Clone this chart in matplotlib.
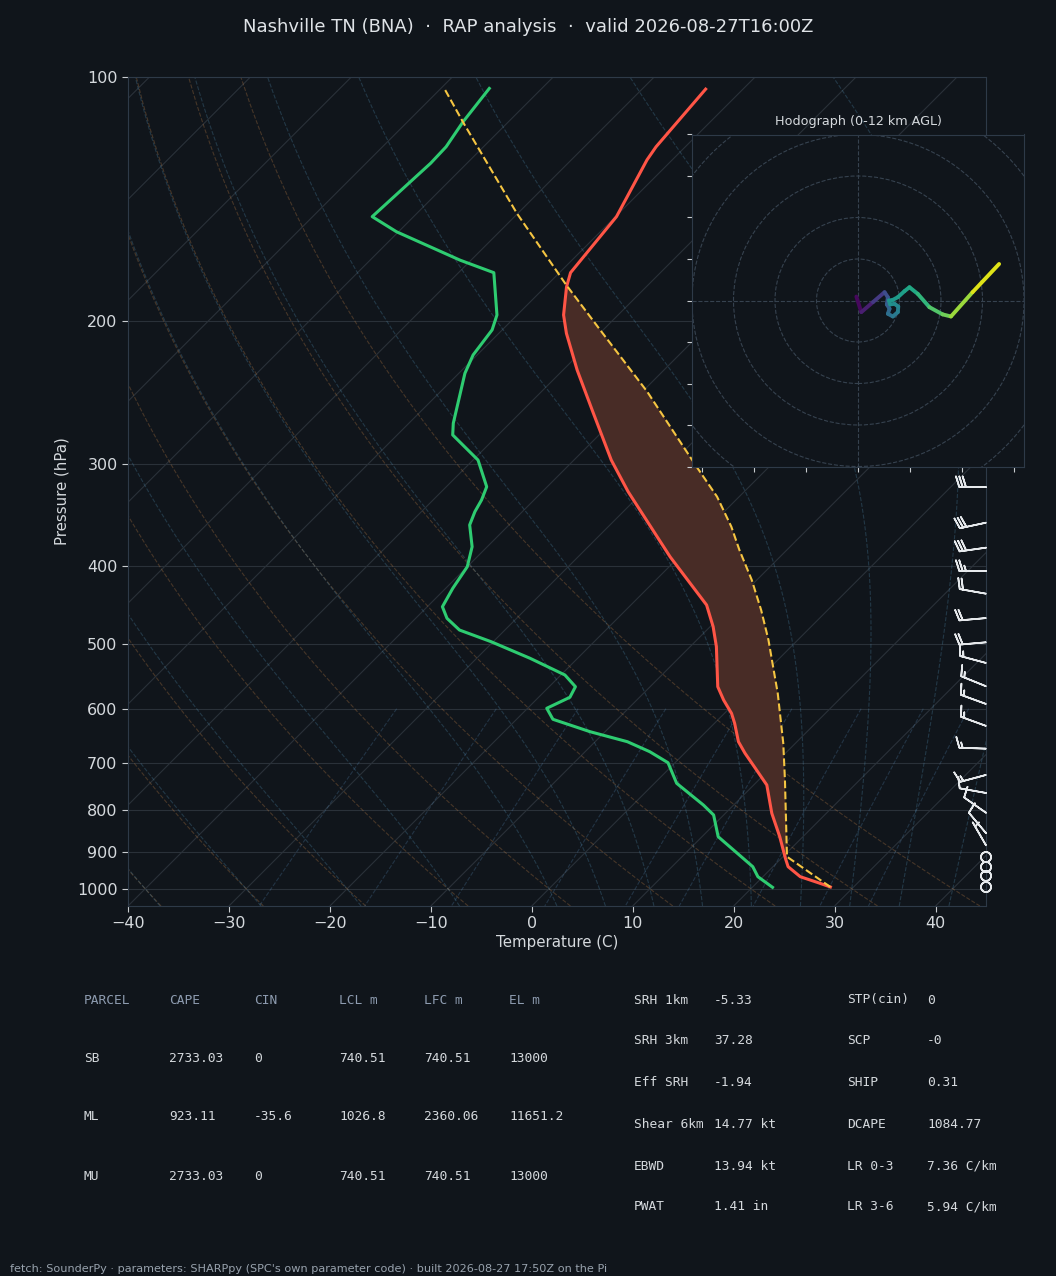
"""Skew-T log-P sounding with hodograph and SHARPpy parameter tables."""

from __future__ import annotations

import matplotlib

matplotlib.use("Agg")
import matplotlib.pyplot as plt
import numpy as np
from matplotlib import transforms
from matplotlib.collections import LineCollection
from matplotlib.patches import Circle
from matplotlib.ticker import MultipleLocator, NullLocator, ScalarFormatter

W, H, DPI = 1056, 1276, 100
BG = "#10151b"
SPINE = "#2e3a48"
TXT = "#d5d9dd"
GRID = "#2a3139"

TITLE = "Nashville TN (BNA)  \u00b7  RAP analysis  \u00b7  valid 2026-08-27T16:00Z"
FOOTER = ("fetch: SounderPy \u00b7 parameters: SHARPpy (SPC's own parameter code) "
          "\u00b7 built 2026-08-27 17:50Z on the Pi")

# --- sounding (hPa, degC) ---
temp_p = [103.5, 121.9, 126.5, 148.6, 174.2, 181.3, 196.4, 206.9, 229.6, 259.6,
          296.4, 324.2, 389.9, 447.1, 475.5, 503.2, 563.7, 585.4, 607.9, 625.4,
          658.9, 680.9, 714.0, 745.0, 807.3, 862.6, 917.1, 939.2, 966.3, 984.5, 994.9]
temp_c = [-63.7, -62.9, -62.5, -59.9, -58.9, -57.9, -55.4, -53.3, -48.6, -42.7,
          -36.3, -31.5, -20.9, -12.5, -9.7, -7.4, -3.3, -1.4, 0.7, 2.0,
          4.2, 6.0, 8.8, 11.3, 14.6, 17.7, 20.4, 21.5, 23.7, 26.3, 27.7]

dewp_p = [103.3, 113.5, 121.9, 127.7, 148.6, 155.1, 168.1, 174.2, 196.4, 204.9,
          220.0, 231.7, 267.0, 276.0, 296.4, 319.7, 331.9, 343.1, 356.3, 379.0,
          401.1, 426.4, 449.3, 464.3, 480.0, 496.2, 520.1, 545.3, 563.7, 580.9,
          599.3, 618.3, 640.4, 658.9, 677.8, 699.3, 741.4, 788.5, 811.1, 862.6,
          939.2, 966.3, 995.8]
dewp_c = [-85.2, -84.5, -83.7, -83.6, -84.1, -80.2, -71.1, -66.5, -62.0, -61.0,
          -60.4, -59.4, -55.6, -54.5, -49.5, -46.0, -45.2, -44.7, -43.9, -41.5,
          -40.0, -39.3, -38.5, -36.9, -34.5, -30.2, -24.7, -19.6, -17.4, -16.9,
          -18.1, -16.4, -11.5, -6.8, -3.6, -0.7, 2.2, 7.0, 9.0, 11.6,
          18.0, 19.5, 22.0]

parcel_p = [994.9, 913.0, 734.5, 661.9, 574.4, 532.6, 493.8, 453.5, 416.5, 382.5,
            358.1, 328.8, 302.0, 244.2, 205.9, 180.4, 147.2, 114.0, 103.6]
parcel_c = [27.7, 20.4, 12.6, 8.8, 3.3, 0.2, -2.9, -6.6, -10.5, -14.7,
            -17.8, -22.2, -27.2, -39.5, -50.0, -58.1, -70.1, -84.3, -89.5]
lfc_p, el_p = 913.0, 181.0

# wind barbs: pressure (hPa), direction (deg), speed (kt)
barb_p = [320, 354, 380, 406, 433, 464, 497, 527, 563, 592, 630, 672, 724, 762,
          806, 854, 884, 914, 940, 964, 995]
barb_dir = [270, 258, 262, 270, 280, 265, 265, 285, 292, 290, 290, 272, 255, 280,
            305, 320, 330, 0, 0, 0, 0]
barb_spd = [30, 30, 30, 25, 20, 20, 20, 15, 15, 15, 15, 15, 15, 10,
            10, 10, 5, 0, 0, 0, 0]

# hodograph (kt) coloured by height (km AGL)
hodo_u = [-0.8, 1.6, 7.2, 12.8, 14.4, 13.9, 15.2, 14.4, 16.8, 19.2, 19.4, 17.6,
          15.5, 14.9, 16.8, 19.2, 22.4, 24.8, 28.8, 34.4, 40.8, 44.8, 55.2, 68.0]
hodo_v = [1.9, -5.6, -0.8, 4.0, 1.6, -1.9, -4.0, -6.4, -7.7, -5.6, -2.9, -1.6,
          -1.9, 0.0, 0.3, 1.6, 4.5, 6.4, 3.2, -3.2, -6.7, -7.7, 4.0, 17.6]
hodo_z = [0.0, 0.5, 1.5, 2.6, 3.0, 3.4, 3.8, 4.2, 4.6, 5.0, 5.3, 5.6,
          5.9, 6.1, 6.3, 6.5, 6.8, 7.0, 7.4, 8.3, 9.2, 9.6, 10.8, 12.0]

# parameter tables
parcel_header = ["PARCEL", "CAPE", "CIN", "LCL m", "LFC m", "EL m"]
parcel_rows = [
    ["SB", "2733.03", "0", "740.51", "740.51", "13000"],
    ["ML", "923.11", "-35.6", "1026.8", "2360.06", "11651.2"],
    ["MU", "2733.03", "0", "740.51", "740.51", "13000"],
]
kin_labels = ["SRH 1km", "SRH 3km", "Eff SRH", "Shear 6km", "EBWD", "PWAT"]
kin_values = ["-5.33", "37.28", "-1.94", "14.77 kt", "13.94 kt", "1.41 in"]
comp_labels = ["STP(cin)", "SCP", "SHIP", "DCAPE", "LR 0-3", "LR 3-6"]
comp_values = ["0", "-0", "0.31", "1084.77", "7.36 C/km", "5.94 C/km"]

DRY_T0 = np.arange(-40, 41, 10)
MOIST_T0 = np.concatenate((np.arange(-40, 0, 10), np.arange(0, 46, 5)))
MIX_W = [0.0004, 0.001, 0.002, 0.004, 0.007, 0.01, 0.016, 0.024, 0.032]


def _fig_xy(x_px: float, y_px: float) -> tuple[float, float]:
    return x_px / W, 1.0 - y_px / H


def _skew(ax, rot: float):
    """Data -> display transform with the x axis skewed in axes coordinates."""
    return (ax.transScale + ax.transLimits
            + transforms.Affine2D().skew_deg(rot, 0) + ax.transAxes)


def _dtdp(t, p):
    rd, cp, lv, eps = 287.04, 1005.7, 2.501e6, 0.622
    es = 6.112 * np.exp(17.67 * (t - 273.15) / (t - 29.65))
    rs = eps * es / (p - es)
    return (rd * t + lv * rs) / (cp + lv * lv * rs * eps / (rd * t * t)) / p


def _moist_lapse(t0_c, levels):
    t = np.asarray(t0_c, dtype=float) + 273.15
    out = [t]
    for p0, p1 in zip(levels[:-1], levels[1:]):
        h = p1 - p0
        k1 = _dtdp(t, p0)
        k2 = _dtdp(t + h * k1 / 2, p0 + h / 2)
        k3 = _dtdp(t + h * k2 / 2, p0 + h / 2)
        k4 = _dtdp(t + h * k3, p1)
        t = t + h * (k1 + 2 * k2 + 2 * k3 + k4) / 6
        out.append(t)
    return np.array(out) - 273.15


fig = plt.figure(figsize=(W / DPI, H / DPI), dpi=DPI, facecolor=BG)
ax = fig.add_axes([128 / W, 1 - 906 / H, 858 / W, 829 / H], facecolor=BG)
ax.set_yscale("log")
ax.set_xlim(-40, 45)
ax.set_ylim(1050, 100)
rot = np.degrees(np.arctan(829 / 858))
skew = _skew(ax, rot)

# background: isobars, isotherms, adiabats, mixing lines
for p in range(100, 1001, 100):
    ax.axhline(p, color=GRID, lw=0.8, zorder=0.5)
iso = [[(t, 1050), (t, 100)] for t in range(-120, 41, 10)]
ax.add_collection(LineCollection(iso, colors=GRID, linewidths=0.8,
                                 transform=skew, zorder=0.5))

plev = np.linspace(1050, 100, 120)
dry = [np.column_stack(((t0 + 273.15) * (plev / 1000.0) ** 0.2857 - 273.15, plev))
       for t0 in DRY_T0]
ax.add_collection(LineCollection(dry, colors="#d08a4a", alpha=0.28, linewidths=0.8,
                                 linestyles="dashed", transform=skew, zorder=0.6))

up = np.linspace(1000, 100, 200)
down = np.linspace(1000, 1050, 12)
t_up = _moist_lapse(MOIST_T0, up)
t_dn = _moist_lapse(MOIST_T0, down)
moist = [np.column_stack((np.concatenate((t_dn[::-1, i], t_up[1:, i])),
                          np.concatenate((down[::-1], up[1:]))))
         for i in range(len(MOIST_T0))]
ax.add_collection(LineCollection(moist, colors="#5aa0c8", alpha=0.25, linewidths=0.8,
                                 linestyles="dashed", transform=skew, zorder=0.6))

pmix = np.linspace(600, 1050, 30)
mix = []
for w in MIX_W:
    e = pmix * w / (0.622 + w)
    lg = np.log(e / 6.112)
    mix.append(np.column_stack((243.5 * lg / (17.67 - lg), pmix)))
ax.add_collection(LineCollection(mix, colors="#5a90c0", alpha=0.25, linewidths=0.8,
                                 linestyles="dashed", transform=skew, zorder=0.6))

# CAPE shading between parcel and environment
pp = np.array(parcel_p)
pc = np.array(parcel_c)
tp = np.array(temp_p)
tc = np.array(temp_c)
seg_par = (pp <= lfc_p) & (pp >= el_p - 1)
seg_env = (tp <= lfc_p + 5) & (tp >= el_p)
fill_t = np.concatenate((pc[seg_par], tc[seg_env]))
fill_p = np.concatenate((pp[seg_par], tp[seg_env]))
ax.fill(fill_t, fill_p, color="#482c26", lw=0, transform=skew, zorder=1)

ax.plot(temp_c, temp_p, color="#ff5546", lw=2.2, transform=skew, zorder=3)
ax.plot(dewp_c, dewp_p, color="#2ecc71", lw=2.2, transform=skew, zorder=3)
ax.plot(parcel_c, parcel_p, color="#f5c542", lw=1.5, ls="--", transform=skew, zorder=3)

# wind barbs along the right edge
rad = np.radians(barb_dir)
bu = -np.array(barb_spd) * np.sin(rad)
bv = -np.array(barb_spd) * np.cos(rad)
ax.barbs(np.ones(len(barb_p)), barb_p, bu, bv, transform=ax.get_yaxis_transform(),
         length=6.2, sizes=dict(emptybarb=0.19), color="#e6e9ec", linewidth=1.2,
         clip_on=False, zorder=4)

ax.set_xlim(-40, 45)
ax.set_ylim(1050, 100)
ax.xaxis.set_major_locator(MultipleLocator(10))
ax.yaxis.set_major_locator(MultipleLocator(100))
ax.yaxis.set_major_formatter(ScalarFormatter())
ax.yaxis.set_minor_locator(NullLocator())
ax.tick_params(colors="#c8ccd0", labelcolor=TXT, labelsize=11.5, length=4, width=0.8)
for sp in ax.spines.values():
    sp.set_color(SPINE)
ax.set_xlabel("Temperature (C)", color=TXT, fontsize=10.8)
ax.set_ylabel("Pressure (hPa)", color=TXT, fontsize=10.8)
ax.xaxis.set_label_coords(0.5, -0.035)
ax.yaxis.set_label_coords(-0.068, 0.5)

# hodograph inset
hax = fig.add_axes([692 / W, 1 - 467 / H, 332 / W, 333 / H], facecolor=BG)
hax.set_xlim(-80, 80)
hax.set_ylim(-80, 80)
hax.set_aspect("equal", "box")
hgrid = dict(color="#36424f", lw=0.8, ls="--")
hax.axhline(0, **hgrid)
hax.axvline(0, **hgrid)
for r in np.arange(20, 80 * 1.4142135, 20):
    hax.add_patch(Circle((0, 0), r, fill=False, **hgrid))
pts = np.column_stack((hodo_u, hodo_v)).reshape(-1, 1, 2)
segs = np.concatenate([pts[:-1], pts[1:]], axis=1)
zmid = (np.array(hodo_z[:-1]) + np.array(hodo_z[1:])) / 2
lc = LineCollection(segs, cmap="viridis", norm=plt.Normalize(0, 12), linewidths=2.8,
                    capstyle="round", joinstyle="round")
lc.set_array(zmid)
hax.add_collection(lc)
hax.xaxis.set_major_locator(MultipleLocator(25))
hax.yaxis.set_major_locator(MultipleLocator(20))
hax.tick_params(labelleft=False, labelbottom=False, colors="#c8ccd0", length=3.5, width=0.8)
for sp in hax.spines.values():
    sp.set_color(SPINE)
hax.set_title("Hodograph (0-12 km AGL)", color=TXT, fontsize=9.2, pad=7)

# titles and tables
fig.text(*_fig_xy(528, 27), TITLE, ha="center", va="center", fontsize=13, color="#dfe3e7")
mono = dict(family="DejaVu Sans Mono", fontsize=9.3, va="center")
col_x = [84, 169, 254, 339, 424, 509]
for x, lab in zip(col_x, parcel_header):
    fig.text(*_fig_xy(x, 1000), lab, color="#8e9cb0", **mono)
for y, row in zip([1058, 1117, 1176], parcel_rows):
    for x, val in zip(col_x, row):
        fig.text(*_fig_xy(x, y), val, color=TXT, **mono)
row_y = [1000, 1041, 1083, 1124, 1166, 1207]
for y, a, b, c, d in zip(row_y, kin_labels, kin_values, comp_labels, comp_values):
    fig.text(*_fig_xy(634, y), a, color=TXT, **mono)
    fig.text(*_fig_xy(714, y), b, color=TXT, **mono)
    fig.text(*_fig_xy(847, y), c, color=TXT, **mono)
    fig.text(*_fig_xy(927, y), d, color=TXT, **mono)
fig.text(*_fig_xy(10, 1269), FOOTER, ha="left", va="center", fontsize=8.15, color="#98a2ad")

fig.savefig("out.png", dpi=DPI, facecolor=BG)
plt.close(fig)
